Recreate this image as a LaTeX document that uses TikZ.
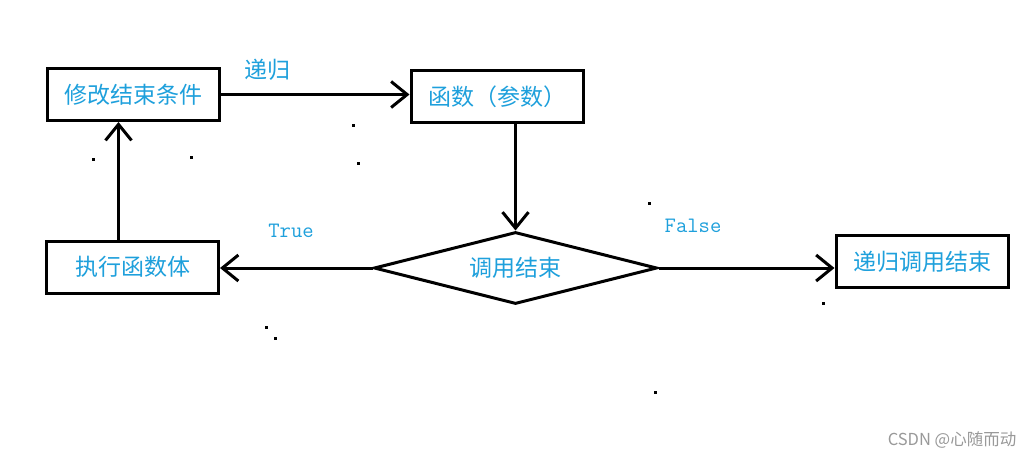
\documentclass[tikz,border=0pt]{standalone}
\usepackage{fontspec}
\setmainfont{Noto Sans CJK SC}
\usepackage{tikz}
\usetikzlibrary{arrows.meta, shapes.geometric}
\definecolor{paintblue}{RGB}{30,160,220}

\begin{document}
\begin{tikzpicture}[
    x=1pt, y=-1pt,
    >={Straight Barb[length=16pt, width=26pt]},
    every node/.style={font=\fontsize{23}{27}\selectfont, text=paintblue},
    box/.style={draw=black, line width=3pt, inner sep=0pt,
                minimum width=172pt, minimum height=52pt},
    cond/.style={diamond, aspect=3.9, draw=black, line width=3pt, inner sep=0pt,
                 minimum width=283pt, minimum height=72pt},
    lbl/.style={font=\ttfamily\fontsize{22}{26}\selectfont},
    flow/.style={->, line width=3pt},
  ]
  \fill[white] (0,0) rectangle (1035,459);
  \useasboundingbox (0,0) rectangle (1035,459);
  \node[box] (mod)  at (133, 94.5) {修改结束条件};
  \node[box] (func) at (497, 96.5) {函数（参数）};
  \node[cond] (dec) at (515.5, 268) {调用结束};
  \node[box] (exec) at (132.5, 267) {执行函数体};
  \node[box] (endb) at (922, 261.5) {递归调用结束};
  \node (rec)  at (267, 70) {递归};
  \node[lbl] (yes) at (291, 231) {True};
  \node[lbl] (no)  at (693, 226) {False};
  \node[text=gray!80, font=\fontsize{16.5}{20}\selectfont] (mark) at (952, 440) {CSDN @心随而动};
  \draw[flow] (mod.east) -- (mod.east -| func.west);
  \draw[flow] (func.south -| dec.north) -- (dec.north);
  \draw[flow] (dec.west) -- (dec.west -| exec.east);
  \draw[flow] (dec.east) -- (dec.east -| endb.west);
  \draw[flow] ([xshift=-14pt]exec.north) -- ([xshift=-14pt]exec.north |- mod.south);
  % stray marks
  \foreach \px/\py in {93/159, 191/157, 353/125, 358/163, 649/203,
                       266/327, 275/338, 823/303, 655/392}
    \fill (\px-1.5, \py-1.5) rectangle +(3,3);
\end{tikzpicture}
\end{document}
